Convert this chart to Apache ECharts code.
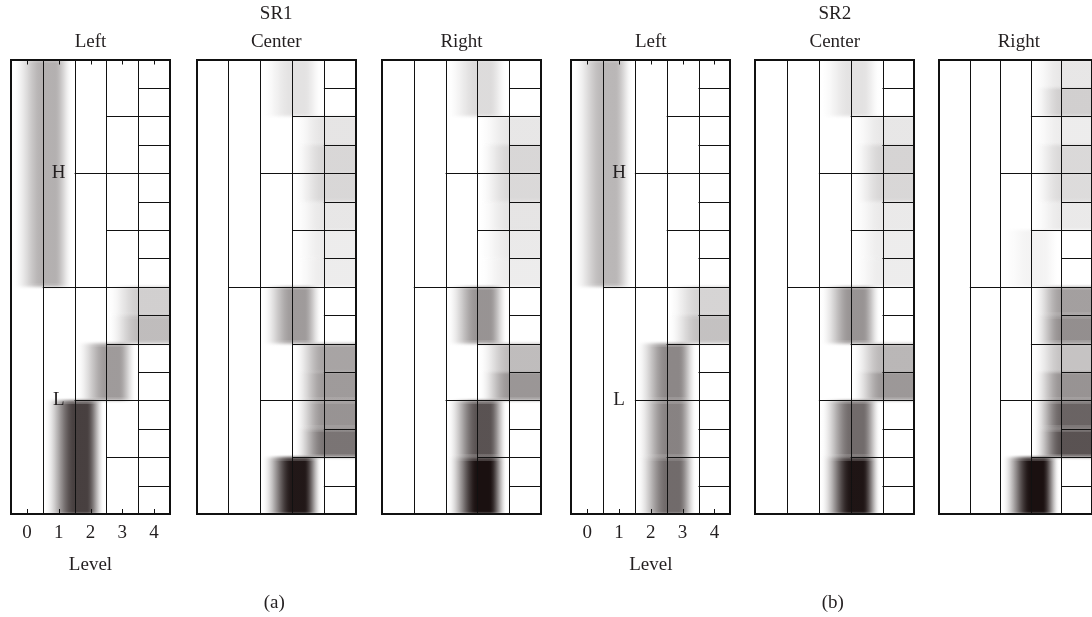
<!DOCTYPE html>
<html><head><meta charset="utf-8">
<script src="https://cdn.jsdelivr.net/npm/echarts@6/dist/echarts.min.js"></script>
<style>html,body{margin:0;padding:0;background:#fff}#c{width:1092px;height:617px}</style>
</head><body><div id="c"></div>
<script>
// ---------- labels ----------
const levelLabels = ['0', '1', '2', '3', '4'];
const panelTitles = ['Left', 'Center', 'Right', 'Left', 'Center', 'Right'];
const groupTitles = ['SR1', 'SR2'];
const subLabels = ['(a)', '(b)'];
const nodeLabels = ['H', 'L'];

// ---------- node intensities (0 = white, 1 = black), levels 1..4, top to bottom ----------
const sr1LeftL1 = [0.33, 0];
const sr1LeftL2 = [0, 0, 0, 0.8];
const sr1LeftL3 = [0, 0, 0, 0, 0, 0.42, 0, 0];
const sr1LeftL4 = [0, 0, 0, 0, 0, 0, 0, 0, 0.2, 0.28, 0, 0, 0, 0, 0, 0];

const sr1CenterL1 = [0, 0];
const sr1CenterL2 = [0, 0, 0, 0];
const sr1CenterL3 = [0.12, 0, 0, 0, 0.42, 0, 0, 0.97];
const sr1CenterL4 = [0, 0, 0.11, 0.17, 0.17, 0.1, 0.08, 0.08, 0, 0, 0.38, 0.42, 0.45, 0.58, 0, 0];

const sr1RightL1 = [0, 0];
const sr1RightL2 = [0, 0, 0, 0];
const sr1RightL3 = [0.15, 0, 0, 0, 0.45, 0, 0.72, 1.0];
const sr1RightL4 = [0, 0, 0.1, 0.17, 0.16, 0.11, 0.09, 0.08, 0, 0, 0.28, 0.44, 0, 0, 0, 0];

const sr2LeftL1 = [0.3, 0];
const sr2LeftL2 = [0, 0, 0, 0];
const sr2LeftL3 = [0, 0, 0, 0, 0, 0.5, 0.52, 0.62];
const sr2LeftL4 = [0, 0, 0, 0, 0, 0, 0, 0, 0.18, 0.26, 0, 0, 0, 0, 0, 0];

const sr2CenterL1 = [0, 0];
const sr2CenterL2 = [0, 0, 0, 0];
const sr2CenterL3 = [0.12, 0, 0, 0, 0.45, 0, 0.62, 0.98];
const sr2CenterL4 = [0, 0, 0.1, 0.18, 0.17, 0.09, 0.08, 0.08, 0, 0, 0.3, 0.43, 0, 0, 0, 0];

const sr2RightL1 = [0, 0];
const sr2RightL2 = [0, 0, 0, 0];
const sr2RightL3 = [0, 0, 0, 0.05, 0, 0, 0, 1.0];
const sr2RightL4 = [0.1, 0.2, 0.08, 0.16, 0.15, 0.09, 0, 0, 0.4, 0.47, 0.25, 0.45, 0.65, 0.72, 0, 0];

const panels = [
  [sr1LeftL1, sr1LeftL2, sr1LeftL3, sr1LeftL4],
  [sr1CenterL1, sr1CenterL2, sr1CenterL3, sr1CenterL4],
  [sr1RightL1, sr1RightL2, sr1RightL3, sr1RightL4],
  [sr2LeftL1, sr2LeftL2, sr2LeftL3, sr2LeftL4],
  [sr2CenterL1, sr2CenterL2, sr2CenterL3, sr2CenterL4],
  [sr2RightL1, sr2RightL2, sr2RightL3, sr2RightL4]
];

// ---------- layout ----------
const panelLeft = [11, 196.7, 382, 571.3, 755.3, 939.3];
const panelTop = 59.5, panelW = 159, panelH = 454.5;
const FONT = 'Liberation Serif';
const TXT = '#231f20';
const NROWS = 16;
const SOFT = 3; // vertical edge softness, px

function smooth(t) { t = Math.max(0, Math.min(1, t)); return t * t * (3 - 2 * t); }
// asymmetric soft profile around a column boundary (d in column widths)
function prof(d, flatRight) {
  if (d <= 0) return smooth((d + 0.95) / 0.95);
  if (flatRight) return 1;
  if (d <= 0.38) return 1;
  return 1 - smooth((d - 0.38) / 0.55);
}

function shadeItem(params, api) {
  const k = api.value(0), r0 = api.value(1), r1 = api.value(2), v = api.value(3);
  const w = api.coord([1, 0])[0] - api.coord([0, 0])[0];
  const p0 = api.coord([k, r0]), p1 = api.coord([k, r1]);
  const cx = p0[0] - w / 2;
  const left = cx - 0.95 * w;
  const right = k === 4 ? p0[0] + w / 2 : cx + 0.93 * w;
  const N = 40;
  const prof01 = [];
  for (let i = 0; i <= N; i++) {
    const x = left + (i / N) * (right - left);
    prof01.push(prof((x - cx) / w, k === 4));
  }
  const grad = (f) => new echarts.graphic.LinearGradient(0, 0, 1, 0,
    prof01.map((a, i) => ({ offset: i / N, color: 'rgba(26,16,16,' + (a * v * f).toFixed(3) + ')' })));
  const y0 = p0[1], y1 = p1[1];
  const ch = [];
  // soft top edge
  const steps = 2 * SOFT;
  for (let s = 0; s < steps; s++) {
    const f = smooth((s + 0.5) / steps);
    ch.push({ type: 'rect', shape: { x: left, y: y0 - SOFT + s, width: right - left, height: 1 }, style: { fill: grad(f) } });
    ch.push({ type: 'rect', shape: { x: left, y: y1 + SOFT - s - 1, width: right - left, height: 1 }, style: { fill: grad(f) } });
  }
  ch.push({ type: 'rect', shape: { x: left, y: y0 + SOFT, width: right - left, height: (y1 - SOFT) - (y0 + SOFT) }, style: { fill: grad(1) } });
  return { type: 'group', children: ch };
}

function crisp(x) { return Math.round(x) + 0.5; }

function gridItem(params, api) {
  const hasTicks = api.value(2) === 1;
  const w = api.coord([1, 0])[0] - api.coord([0, 0])[0];
  const x0 = api.coord([0, 0])[0] - w / 2;
  const x1 = x0 + 5 * w;
  const Y = r => api.coord([0, r])[1];
  const yTop = Y(0), yBot = Y(NROWS);
  const ch = [];
  const ls = { stroke: '#111', lineWidth: 1 };
  // white mask outside the box (covers soft edges spilling out)
  ch.push({ type: 'rect', shape: { x: x0 - 4, y: yTop - 8, width: x1 - x0 + 8, height: 8 }, style: { fill: '#fff' } });
  ch.push({ type: 'rect', shape: { x: x0 - 4, y: yBot, width: x1 - x0 + 8, height: 8 }, style: { fill: '#fff' } });
  for (let c = 1; c <= 4; c++) {
    const x = crisp(x0 + c * w);
    ch.push({ type: 'line', shape: { x1: x, y1: yTop, x2: x, y2: yBot }, style: ls });
  }
  for (let k = 1; k <= 4; k++) {
    const n = Math.pow(2, k), step = NROWS / n;
    for (let j = 1; j < n; j += 2) {
      const y = crisp(Y(j * step));
      ch.push({ type: 'line', shape: { x1: x0 + k * w, y1: y, x2: x1, y2: y }, style: ls });
    }
  }
  if (hasTicks) {
    levelLabels.forEach((lab, c) => {
      const x = crisp(api.coord([c, 0])[0]);
      ch.push({ type: 'line', shape: { x1: x, y1: yTop, x2: x, y2: yTop + 5 }, style: ls });
      ch.push({ type: 'line', shape: { x1: x, y1: yBot, x2: x, y2: yBot - 5 }, style: ls });
    });
  }
  ch.push({ type: 'rect', shape: { x: Math.round(x0), y: Math.round(yTop), width: Math.round(x1) - Math.round(x0), height: Math.round(yBot) - Math.round(yTop) },
    style: { fill: null, stroke: '#111', lineWidth: 2 } });
  return { type: 'group', children: ch };
}

function labelItem(params, api) {
  const p = api.coord([api.value(0), api.value(1)]);
  return { type: 'text', x: p[0], y: p[1],
    style: { text: nodeLabels[params.dataIndex], fontSize: 19, fontFamily: FONT, fill: TXT, align: 'center', verticalAlign: 'middle' } };
}

const grid = [], xAxis = [], yAxis = [], series = [];
panels.forEach((lv, i) => {
  const isLeft = (i % 3 === 0);
  grid.push({ left: panelLeft[i], top: panelTop, width: panelW, height: panelH, show: false });
  xAxis.push({
    type: 'category', gridIndex: i, data: levelLabels, position: 'bottom',
    axisLine: { show: false },
    axisTick: { show: false },
    axisLabel: { show: isLeft, margin: 10, fontSize: 19, fontFamily: FONT, color: TXT },
    splitLine: { show: false },
    name: isLeft ? 'Level' : '', nameLocation: 'middle', nameGap: 42,
    nameTextStyle: { fontSize: 19, fontFamily: FONT, color: TXT }
  });
  yAxis.push({ type: 'value', gridIndex: i, min: 0, max: NROWS, inverse: true, show: false });

  const data = [];
  lv.forEach((vals, li) => {
    const k = li + 1, rpn = NROWS / vals.length;
    vals.forEach((v, n) => { if (v > 0) data.push([k, n * rpn, (n + 1) * rpn, v]); });
  });
  series.push({ type: 'custom', xAxisIndex: i, yAxisIndex: i, z: 2, silent: true,
    renderItem: shadeItem, data: data, animation: false });
  series.push({ type: 'custom', xAxisIndex: i, yAxisIndex: i, z: 4, silent: true,
    renderItem: gridItem, data: [[0, 0, isLeft ? 1 : 0]], animation: false });
  if (isLeft) {
    series.push({ type: 'custom', xAxisIndex: i, yAxisIndex: i, z: 5, silent: true,
      renderItem: labelItem, data: [[1, 4], [1, 12]], animation: false });
  }
});

const graphic = [];
const tStyle = (t) => ({ text: t, fontSize: 19, fontFamily: FONT, fill: TXT, align: 'center', verticalAlign: 'middle' });
panelTitles.forEach((t, i) => graphic.push({ type: 'text', x: panelLeft[i] + panelW / 2, y: 42, style: tStyle(t) }));
groupTitles.forEach((t, g) => graphic.push({ type: 'text', x: panelLeft[g * 3 + 1] + panelW / 2, y: 14, style: tStyle(t) }));
subLabels.forEach((t, g) => graphic.push({ type: 'text', x: panelLeft[g * 3 + 1] + panelW / 2 - 2, y: 603, style: tStyle(t) }));

const chart = echarts.init(document.getElementById('c'), null, { renderer: 'canvas' });
chart.setOption({ animation: false, backgroundColor: '#fff', grid, xAxis, yAxis, series, graphic });
</script></body></html>
